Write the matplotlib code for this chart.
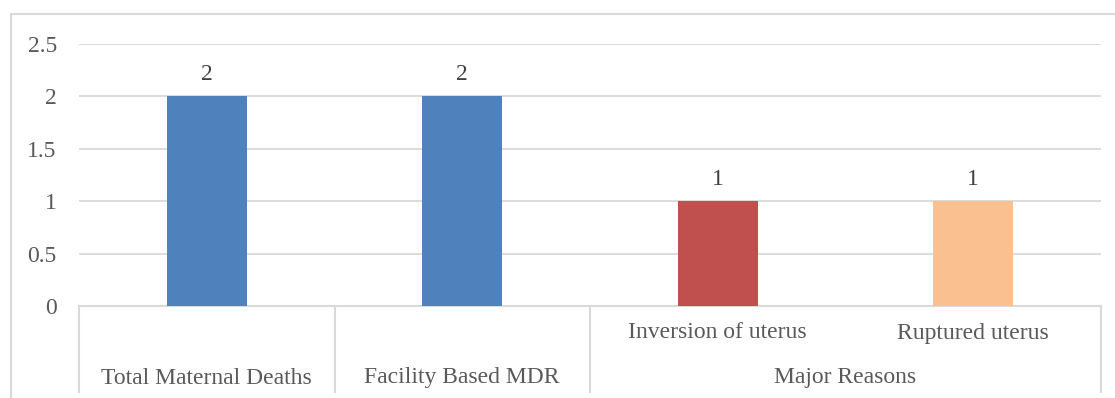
#!/usr/bin/env python3

import matplotlib
matplotlib.use('Agg')
import matplotlib.pyplot as plt
from matplotlib.patches import Rectangle
import numpy as np

# counts per category, grouped two-level like a spreadsheet chart
categories = ['Total Maternal Deaths', 'Facility Based MDR',
              'Inversion of uterus', 'Ruptured uterus']
values = [2, 2, 1, 1]
group_labels = ['Major Reasons']   # spans the last two categories
group_span = (2, 3)
bar_colors = ['#4F81BD', '#4F81BD', '#C0504D', '#FAC090']
y_ticks = [0, 0.5, 1, 1.5, 2, 2.5]
y_tick_labels = ['0', '0.5', '1', '1.5', '2', '2.5']

W, H = 1115, 398
plt.rcParams['font.family'] = ['Liberation Serif', 'DejaVu Serif']

fig = plt.figure(figsize=(W / 100, H / 100), dpi=100)
ax = fig.add_axes([79 / W, 1 - 306 / H, (1101 - 79) / W, (306 - 44) / H])

# outer chart border, running off the right and bottom edges
fig.patches.append(Rectangle((11 / W, -0.1), 1.2, 1 - 14 / H + 0.1,
                             transform=fig.transFigure, fill=False,
                             edgecolor='#D9D9D9', linewidth=1.5))

x = np.arange(len(categories))
ax.bar(x, values, width=0.315, color=bar_colors, zorder=3)

for xi, v in zip(x, values):
    ax.annotate(f'{v:g}', (xi, v), xytext=(0, 8), textcoords='offset points',
                ha='center', va='bottom', fontsize=17, color='#404040')

ax.set_xlim(-0.5, len(categories) - 0.5)
ax.set_ylim(0, 2.5)
ax.set_yticks(y_ticks)
ax.set_yticklabels(y_tick_labels)
ax.tick_params(axis='y', length=0, pad=16, labelsize=17, labelcolor='#595959')
ax.set_xticks([])
ax.grid(axis='y', color='#D9D9D9', linewidth=1.3, zorder=0)
for side in ['top', 'right', 'left']:
    ax.spines[side].set_visible(False)
ax.spines['bottom'].set_color('#D9D9D9')
ax.spines['bottom'].set_linewidth(1.5)

# category table below the axis
tr = ax.get_xaxis_transform()
depth = -(392 - 306) / (306 - 44)
for xb in [-0.5, 0.5, 1.5, len(categories) - 0.5]:
    ax.plot([xb, xb], [0, depth], transform=tr, color='#D9D9D9',
            linewidth=1.5, clip_on=False)

y_sub = -(333 - 306) / (306 - 44)
y_low = -(378 - 306) / (306 - 44)
for i, name in enumerate(categories):
    in_group = group_span[0] <= i <= group_span[1]
    ax.text(i, y_sub if in_group else y_low, name, transform=tr,
            ha='center', va='center', fontsize=17, color='#595959')
ax.text((group_span[0] + group_span[1]) / 2, y_low, group_labels[0],
        transform=tr, ha='center', va='center', fontsize=17, color='#595959')

fig.savefig('out.png', dpi=100)
